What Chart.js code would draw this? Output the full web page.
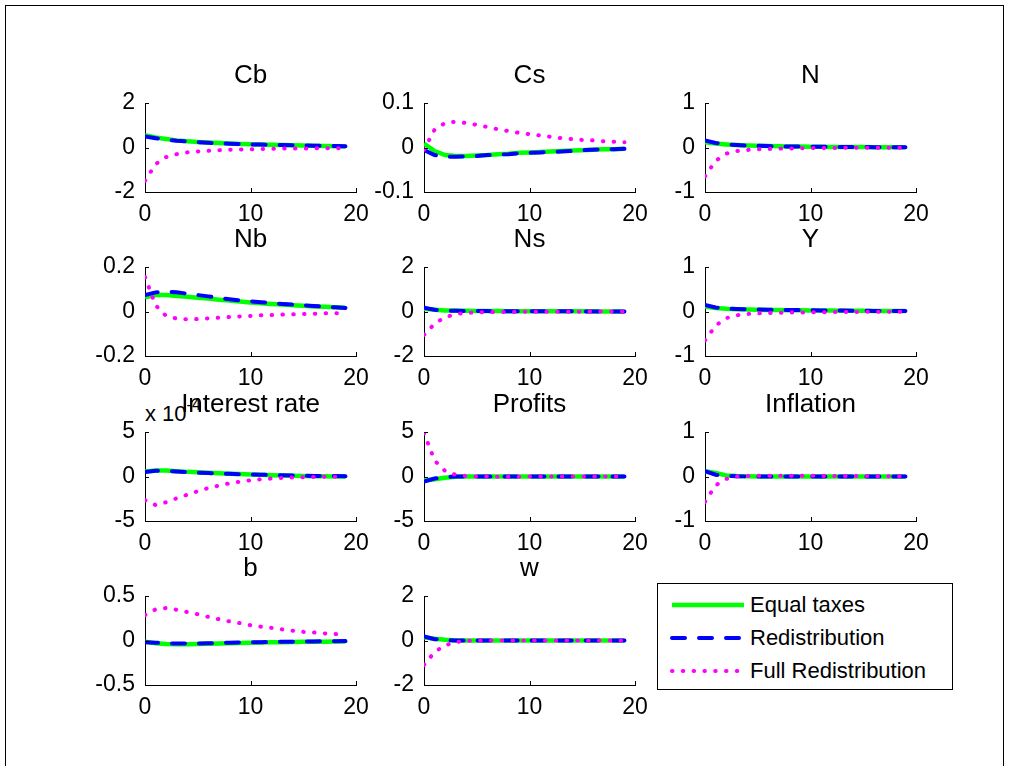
<!DOCTYPE html>
<html>
<head>
<meta charset="utf-8">
<script src="https://cdn.jsdelivr.net/npm/chart.js@4.4.1/dist/chart.umd.min.js"></script>
<style>
  body { margin: 0; background: #fff; }
  #fig { position: relative; width: 1009px; height: 772px; overflow: hidden; font-family: "Liberation Sans", Arial, sans-serif; }
  #frame { position: absolute; left: 5px; top: 5px; width: 997px; height: 760px; border: 1px solid #000; border-bottom: none; }
  .panel { position: absolute; }
  #legend { position: absolute; left: 657px; top: 583px; width: 294px; height: 105px; border: 1px solid #000; background: #fff; }
  .row { position: absolute; left: 0; height: 30px; font-size: 22px; line-height: 30px; color: #000; }
  .row svg { position: absolute; left: 11px; top: 0; }
  .row span { position: absolute; left: 92px; white-space: nowrap; }
  #expo { position: absolute; left: 145px; top: 399px; font-size: 22px; color: #000; white-space: nowrap; }
  #expo sup { font-size: 16px; position: relative; top: -3px; }
</style>
</head>
<body>
<div id="fig">
  <div id="frame"></div>
  <div id="expo">x 10<sup>-4</sup></div>
  <div id="legend">
    <div class="row" style="top:6px"><svg width="80" height="30"><line x1="3" y1="15" x2="75" y2="15" stroke="#00ff00" stroke-width="4.5"/></svg><span>Equal taxes</span></div>
    <div class="row" style="top:39px"><svg width="80" height="30"><line x1="3" y1="15" x2="75" y2="15" stroke="#0000ff" stroke-width="4" stroke-dasharray="13 14" stroke-linecap="round"/></svg><span>Redistribution</span></div>
    <div class="row" style="top:72px"><svg width="80" height="30"><line x1="3" y1="15" x2="75" y2="15" stroke="#ff00ff" stroke-width="4" stroke-dasharray="0.5 10.3" stroke-linecap="round"/></svg><span>Full Redistribution</span></div>
  </div>
</div>
<script>
// periods after the shock
const periods = [0,1,2,3,4,5,6,7,8,9,10,11,12,13,14,15,16,17,18,19];
const xTicks = [0, 10, 20];

const panelTitles = ['Cb','Cs','N','Nb','Ns','Y','Interest rate','Profits','Inflation','b','w'];
const yTicks = [[-2,0,2],[-0.1,0,0.1],[-1,0,1],[-0.2,0,0.2],[-2,0,2],[-1,0,1],[-5,0,5],[-5,0,5],[-1,0,1],[-0.5,0,0.5],[-2,0,2]];
const seriesNames = ['Equal taxes', 'Redistribution', 'Full Redistribution'];

// Cb
const cbEqual  = [0.55,0.45,0.38,0.32,0.28,0.25,0.22,0.2,0.18,0.16,0.15,0.13,0.12,0.11,0.1,0.09,0.08,0.07,0.06,0.05];
const cbRedist = [0.5,0.42,0.35,0.3,0.27,0.24,0.21,0.19,0.17,0.16,0.14,0.13,0.12,0.11,0.1,0.09,0.08,0.07,0.07,0.06];
const cbFull   = [-1.5,-0.75,-0.43,-0.3,-0.22,-0.18,-0.15,-0.12,-0.1,-0.09,-0.08,-0.07,-0.06,-0.05,-0.05,-0.04,-0.04,-0.03,-0.03,-0.03];
// Cs
const csEqual  = [0.009,-0.008,-0.017,-0.019,-0.019,-0.018,-0.017,-0.015,-0.014,-0.012,-0.011,-0.01,-0.009,-0.008,-0.007,-0.006,-0.005,-0.004,-0.004,-0.003];
const csRedist = [-0.006,-0.017,-0.021,-0.021,-0.02,-0.019,-0.017,-0.016,-0.015,-0.013,-0.012,-0.011,-0.01,-0.009,-0.008,-0.006,-0.005,-0.004,-0.004,-0.003];
const csFull   = [-0.005,0.04,0.055,0.058,0.055,0.051,0.046,0.041,0.037,0.033,0.03,0.027,0.024,0.021,0.019,0.017,0.016,0.014,0.013,0.012];
// N
const nEqual  = [0.12,0.09,0.07,0.055,0.045,0.038,0.032,0.027,0.023,0.02,0.017,0.015,0.013,0.011,0.01,0.009,0.008,0.007,0.006,0.005];
const nRedist = [0.16,0.1,0.07,0.055,0.045,0.038,0.032,0.027,0.023,0.02,0.017,0.015,0.013,0.011,0.01,0.009,0.008,0.007,0.006,0.005];
const nFull   = [-0.65,-0.3,-0.14,-0.08,-0.055,-0.04,-0.032,-0.026,-0.021,-0.017,-0.014,-0.012,-0.01,-0.008,-0.007,-0.006,-0.005,-0.004,-0.004,-0.003];
// Nb
const nbEqual  = [0.064,0.074,0.074,0.07,0.066,0.062,0.058,0.053,0.049,0.045,0.04,0.037,0.034,0.031,0.028,0.026,0.023,0.021,0.019,0.017];
const nbRedist = [0.074,0.086,0.089,0.086,0.08,0.074,0.068,0.061,0.055,0.05,0.046,0.042,0.038,0.034,0.031,0.028,0.025,0.022,0.019,0.016];
const nbFull   = [0.155,0.028,-0.02,-0.032,-0.035,-0.034,-0.031,-0.028,-0.025,-0.022,-0.02,-0.017,-0.016,-0.014,-0.013,-0.011,-0.01,-0.008,-0.008,-0.007];
// Ns
const nsEqual  = [0.12,0.08,0.05,0.04,0.03,0.025,0.02,0.018,0.016,0.014,0.012,0.011,0.01,0.009,0.008,0.007,0.006,0.005,0.005,0.004];
const nsRedist = [0.17,0.08,0.04,0.03,0.025,0.02,0.017,0.015,0.013,0.011,0.01,0.009,0.008,0.007,0.006,0.005,0.005,0.004,0.004,0.003];
const nsFull   = [-1.05,-0.55,-0.25,-0.12,-0.06,-0.04,-0.03,-0.025,-0.02,-0.017,-0.014,-0.012,-0.01,-0.008,-0.007,-0.006,-0.005,-0.004,-0.004,-0.003];
// Y
const yEqual  = [0.11,0.08,0.06,0.05,0.045,0.04,0.036,0.033,0.03,0.027,0.025,0.022,0.02,0.018,0.016,0.015,0.013,0.012,0.011,0.01];
const yRedist = [0.15,0.09,0.065,0.055,0.05,0.045,0.04,0.037,0.035,0.031,0.028,0.025,0.022,0.02,0.018,0.016,0.014,0.012,0.011,0.01];
const yFull   = [-0.65,-0.32,-0.15,-0.085,-0.055,-0.042,-0.035,-0.03,-0.025,-0.021,-0.018,-0.015,-0.013,-0.011,-0.009,-0.008,-0.007,-0.006,-0.005,-0.004];
// Interest rate (in units of 1e-4)
const rEqual  = [0.57,0.68,0.68,0.6,0.52,0.47,0.42,0.37,0.32,0.27,0.23,0.19,0.15,0.12,0.08,0.06,0.04,0.02,0.01,0];
const rRedist = [0.49,0.64,0.64,0.57,0.49,0.42,0.38,0.34,0.3,0.26,0.23,0.2,0.17,0.14,0.11,0.09,0.07,0.06,0.05,0.04];
const rFull   = [-2.65,-3.2,-2.9,-2.45,-2.05,-1.65,-1.3,-1.02,-0.77,-0.58,-0.43,-0.31,-0.23,-0.16,-0.11,-0.08,-0.05,-0.03,-0.02,-0.01];
// Profits
const profEqual  = [-0.45,-0.3,-0.15,-0.04,-0.01,0,0,0,0,0,0,0,0,0,0,0,0,0,0,0];
const profRedist = [-0.57,-0.23,-0.08,0,0,0,0,0,0,0,0,0,0,0,0,0,0,0,0,0];
const profFull   = [4.9,1.8,0.62,0.19,0.05,0,-0.01,-0.02,-0.02,-0.02,-0.01,-0.01,-0.01,-0.01,0,0,0,0,0,0];
// Inflation
const inflEqual  = [0.12,0.08,0.025,0.01,0.005,0,0,0,0,0,0,0,0,0,0,0,0,0,0,0];
const inflRedist = [0.12,0.04,0.015,0.005,0.002,0,0,0,0,0,0,0,0,0,0,0,0,0,0,0];
const inflFull   = [-0.57,-0.2,-0.055,0,0.01,0.015,0.018,0.018,0.017,0.016,0.015,0.013,0.012,0.011,0.01,0.009,0.008,0.007,0.006,0.005];
// b
const bEqual  = [-0.015,-0.03,-0.04,-0.042,-0.041,-0.039,-0.036,-0.033,-0.03,-0.027,-0.025,-0.023,-0.021,-0.019,-0.017,-0.015,-0.014,-0.013,-0.012,-0.011];
const bRedist = [-0.02,-0.025,-0.032,-0.035,-0.035,-0.033,-0.031,-0.028,-0.025,-0.023,-0.021,-0.019,-0.017,-0.015,-0.013,-0.011,-0.01,-0.009,-0.008,-0.007];
const bFull   = [0.285,0.35,0.365,0.345,0.32,0.295,0.265,0.24,0.215,0.195,0.172,0.155,0.142,0.125,0.11,0.097,0.09,0.08,0.073,0.068];
// w
const wEqual  = [0.15,0.08,0.03,0.005,0,0,0,0,0,0,0,0,0,0,0,0,0,0,0,0];
const wRedist = [0.18,0.06,0.015,0,0,0,0,0,0,0,0,0,0,0,0,0,0,0,0,0];
const wFull   = [-1.1,-0.52,-0.22,-0.07,-0.02,0,0,0,0,0,0,0,0,0,0,0,0,0,0,0];

const panelData = [
  [cbEqual, cbRedist, cbFull], [csEqual, csRedist, csFull], [nEqual, nRedist, nFull],
  [nbEqual, nbRedist, nbFull], [nsEqual, nsRedist, nsFull], [yEqual, yRedist, yFull],
  [rEqual, rRedist, rFull], [profEqual, profRedist, profFull], [inflEqual, inflRedist, inflFull],
  [bEqual, bRedist, bFull], [wEqual, wRedist, wFull]
];

// subplot grid (axes box in page pixels)
const colLeft = [145, 424, 705];
const rowTop = [103, 267, 432, 596];
const axW = 211, axH = 89;
const padL = 75, padT = 45, padR = 30, padB = 42;

const styles = [
  { borderColor: '#00ff00', borderWidth: 4.5, borderDash: [], order: 3 },
  { borderColor: '#0000ff', borderWidth: 4, borderDash: [13, 14], borderCapStyle: 'round', order: 2 },
  { borderColor: '#ff00ff', borderWidth: 4, borderDash: [0.5, 10.3], borderCapStyle: 'round', order: 1 }
];

// MATLAB style inward tick marks
const innerTicks = {
  id: 'innerTicks',
  afterDraw(chart) {
    const { ctx, chartArea: a, scales: { x, y } } = chart;
    ctx.save();
    ctx.strokeStyle = '#000';
    ctx.lineWidth = 1;
    ctx.beginPath();
    x.ticks.forEach(t => {
      const px = Math.round(x.getPixelForValue(t.value)) + 0.5;
      ctx.moveTo(px, a.bottom); ctx.lineTo(px, a.bottom - 4);
    });
    y.ticks.forEach(t => {
      const py = Math.round(y.getPixelForValue(t.value)) + 0.5;
      ctx.moveTo(a.left, py); ctx.lineTo(a.left + 4, py);
    });
    ctx.stroke();
    ctx.restore();
  }
};

const fig = document.getElementById('fig');
const tickFont = { family: '"Liberation Sans", Arial, sans-serif', size: 23 };

panelTitles.forEach((title, i) => {
  const col = i % 3, row = Math.floor(i / 3);
  const div = document.createElement('div');
  div.className = 'panel';
  div.style.left = (colLeft[col] - padL) + 'px';
  div.style.top = (rowTop[row] - padT) + 'px';
  const cv = document.createElement('canvas');
  cv.width = axW + padL + padR;
  cv.height = axH + padT + padB;
  div.appendChild(cv);
  fig.insertBefore(div, document.getElementById('legend'));

  const ticksY = yTicks[i];
  new Chart(cv, {
    type: 'line',
    data: {
      datasets: panelData[i].map((vals, k) => Object.assign({
        label: seriesNames[k],
        data: periods.map((p, j) => ({ x: p, y: vals[j] })),
        pointRadius: 0,
        tension: 0,
        fill: false
      }, styles[k]))
    },
    options: {
      responsive: false,
      devicePixelRatio: 1,
      animation: false,
      layout: { padding: { left: 0, top: 0, right: padR, bottom: 0 } },
      plugins: {
        legend: { display: false },
        tooltip: { enabled: false },
        title: {
          display: true,
          text: title,
          fullSize: false,
          color: '#000',
          font: { family: '"Liberation Sans", Arial, sans-serif', size: 26, weight: 'normal', lineHeight: 1.2 },
          padding: { top: 2.5, bottom: padT - 2.5 - 31.2 }
        }
      },
      scales: {
        x: {
          type: 'linear', min: 0, max: 20,
          afterBuildTicks: s => { s.ticks = xTicks.map(v => ({ value: v })); },
          afterFit: s => { s.height = padB; },
          grid: { display: false, drawTicks: false },
          border: { display: true, color: '#000', width: 1 },
          ticks: { color: '#000', font: tickFont, padding: 9, maxRotation: 0 }
        },
        y: {
          type: 'linear', min: ticksY[0], max: ticksY[2],
          afterBuildTicks: s => { s.ticks = ticksY.map(v => ({ value: v })); },
          afterFit: s => { s.width = padL; },
          grid: { display: false, drawTicks: false },
          border: { display: true, color: '#000', width: 1 },
          ticks: { color: '#000', font: tickFont, padding: 10, callback: v => String(v) }
        }
      }
    },
    plugins: [innerTicks]
  });
});
</script>
</body>
</html>
